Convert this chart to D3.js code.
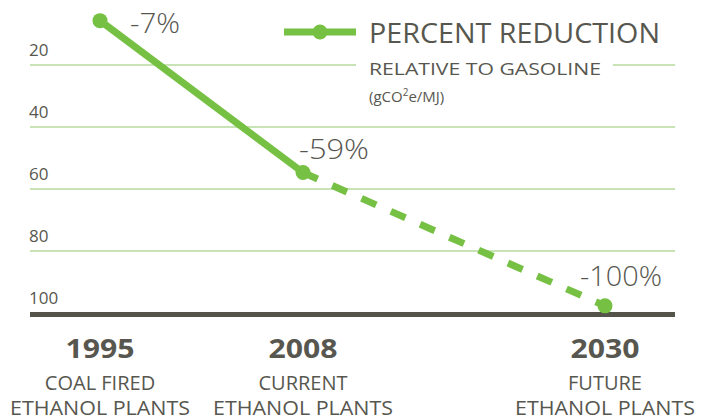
<!DOCTYPE html>
<html>
<head>
<meta charset="utf-8">
<script src="https://cdn.jsdelivr.net/npm/d3@7.9.0/dist/d3.min.js"></script>
<style>
  body { margin: 0; background: #fff; }
  svg { display: block; font-family: "Open Sans", "DejaVu Sans", sans-serif; }
</style>
</head>
<body>
<svg id="chart" width="710" height="420"></svg>
<script>
// data
const years = [1995, 2008, 2030];
const values = [5.7, 54.7, 97.7];            // plotted position on the 0-100 axis
const pctLabels = ['-7%', '-59%', '-100%'];
const catLine1 = ['COAL FIRED', 'CURRENT', 'FUTURE'];
const catLine2 = ['ETHANOL PLANTS', 'ETHANOL PLANTS', 'ETHANOL PLANTS'];
const yTicks = [20, 40, 60, 80, 100];

const green = '#76c043';
const grid = '#c8e4b4';
const textCol = '#57574f';
const dark = '#54544a';

const svg = d3.select('#chart');

// x is not evenly spaced in the original, so piecewise
const x = d3.scaleLinear().domain(years).range([100, 303, 605]);
const y = d3.scaleLinear().domain([0, 100]).range([3, 313]);

// gridlines (20 line is broken by the legend text)
yTicks.slice(0, -1).forEach(t => {
  if (t === 20) {
    svg.append('line').attr('x1', 30).attr('x2', 356)
      .attr('y1', y(t)).attr('y2', y(t))
      .attr('stroke', grid).attr('stroke-width', 2);
    svg.append('line').attr('x1', 613).attr('x2', 675)
      .attr('y1', y(t)).attr('y2', y(t))
      .attr('stroke', grid).attr('stroke-width', 2);
  } else {
    svg.append('line').attr('x1', 30).attr('x2', 675)
      .attr('y1', y(t)).attr('y2', y(t))
      .attr('stroke', grid).attr('stroke-width', 2);
  }
});

// baseline
svg.append('line').attr('x1', 30).attr('x2', 675)
  .attr('y1', y(100) + 1.5).attr('y2', y(100) + 1.5)
  .attr('stroke', dark).attr('stroke-width', 5);

// tick labels
svg.selectAll('.tick-label').data(yTicks).enter().append('text')
  .attr('x', 29).attr('y', d => y(d) - 9)
  .attr('fill', textCol).attr('font-size', 17)
  .text(d => d);

// lines
const pts = years.map((yr, i) => [x(yr), y(values[i])]);
const line = d3.line();
svg.append('path').attr('d', line(pts.slice(0, 2)))
  .attr('fill', 'none').attr('stroke', green).attr('stroke-width', 7);
svg.append('path').attr('d', line(pts.slice(1)))
  .attr('fill', 'none').attr('stroke', green).attr('stroke-width', 7)
  .attr('stroke-dasharray', '16,16');

svg.selectAll('.dot').data(pts).enter().append('circle')
  .attr('cx', d => d[0]).attr('cy', d => d[1]).attr('r', 7.5)
  .attr('fill', green);

// value labels
const labelOff = [[30, 12], [-4, -14], [-25, -20]];
const labelW = [50, 70, 82];
svg.selectAll('.val').data(pts).enter().append('text')
  .attr('x', (d, i) => d[0] + labelOff[i][0])
  .attr('y', (d, i) => d[1] + labelOff[i][1])
  .attr('fill', textCol).attr('font-size', 28).attr('font-weight', 300)
  .attr('textLength', (d, i) => labelW[i]).attr('lengthAdjust', 'spacingAndGlyphs')
  .text((d, i) => pctLabels[i]);

// category labels
const cat = svg.selectAll('.cat').data(years).enter().append('g')
  .attr('transform', d => `translate(${x(d)},0)`);
cat.append('text').attr('y', 358).attr('text-anchor', 'middle')
  .attr('fill', textCol).attr('font-size', 26).attr('font-weight', 700)
  .attr('textLength', 69).attr('lengthAdjust', 'spacingAndGlyphs')
  .text(d => d);
cat.append('text').attr('y', 390).attr('text-anchor', 'middle')
  .attr('fill', textCol).attr('font-size', 20)
  .text((d, i) => catLine1[i]);
cat.append('text').attr('y', 415).attr('text-anchor', 'middle')
  .attr('fill', textCol).attr('font-size', 20)
  .attr('textLength', 180).attr('lengthAdjust', 'spacingAndGlyphs')
  .text((d, i) => catLine2[i]);

// legend
const lg = svg.append('g');
lg.append('line').attr('x1', 284).attr('x2', 356).attr('y1', 32).attr('y2', 32)
  .attr('stroke', green).attr('stroke-width', 7);
lg.append('circle').attr('cx', 320).attr('cy', 32).attr('r', 7.5).attr('fill', green);
lg.append('text').attr('x', 369).attr('y', 43)
  .attr('fill', textCol).attr('font-size', 28)
  .attr('textLength', 291).attr('lengthAdjust', 'spacingAndGlyphs')
  .text('PERCENT REDUCTION');
lg.append('text').attr('x', 369).attr('y', 75)
  .attr('fill', textCol).attr('font-size', 17)
  .attr('textLength', 232).attr('lengthAdjust', 'spacingAndGlyphs')
  .text('RELATIVE TO GASOLINE');
const unit = lg.append('text').attr('x', 369).attr('y', 102)
  .attr('fill', textCol).attr('font-size', 15);
unit.append('tspan').text('(gCO');
unit.append('tspan').attr('dy', -6).attr('font-size', 10).text('2');
unit.append('tspan').attr('dy', 6).text('e/MJ)');
</script>
</body>
</html>
